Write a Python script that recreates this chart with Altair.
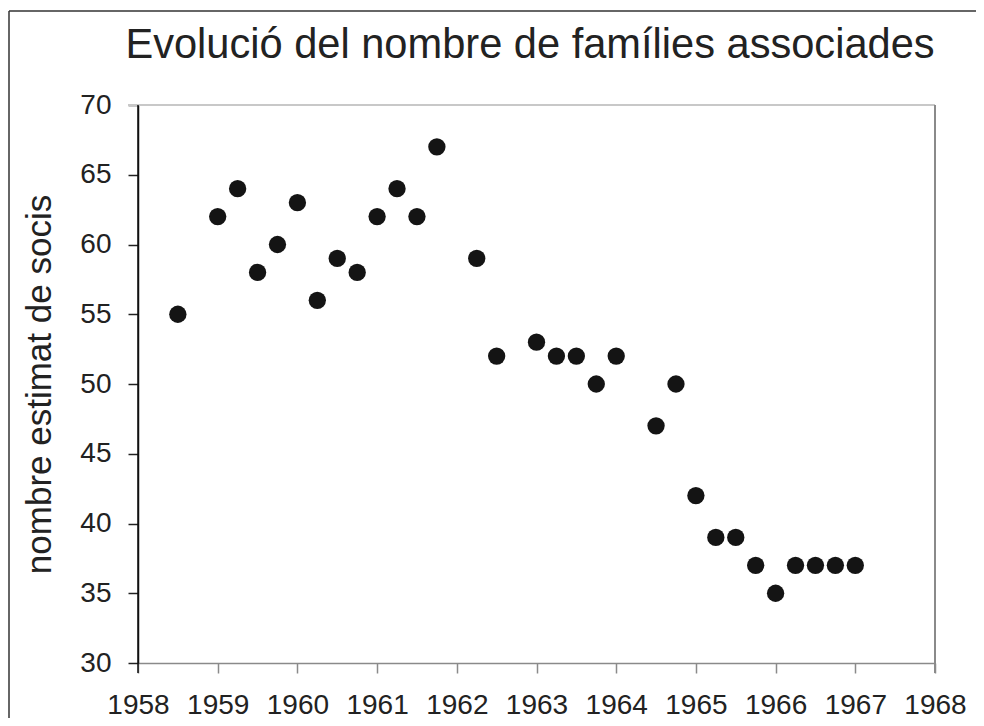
import altair as alt
import pandas as pd

# Data (quarterly estimates)
years = [1958.5, 1959.0, 1959.25, 1959.5, 1959.75, 1960.0, 1960.25, 1960.5, 1960.75,
         1961.0, 1961.25, 1961.5, 1961.75, 1962.25, 1962.5, 1963.0, 1963.25, 1963.5,
         1963.75, 1964.0, 1964.5, 1964.75, 1965.0, 1965.25, 1965.5, 1965.75, 1966.0,
         1966.25, 1966.5, 1966.75, 1967.0]
socis = [55, 62, 64, 58, 60, 63, 56, 59, 58,
         62, 64, 62, 67, 59, 52, 53, 52, 52,
         50, 52, 47, 50, 42, 39, 39, 37, 35,
         37, 37, 37, 37]
x_ticks = list(range(1958, 1969))
y_ticks = list(range(30, 71, 5))
title_text = ["Evolució del nombre de famílies associades"]

df = pd.DataFrame({"any": years, "socis": socis})

FONT = "Liberation Sans"
W, H = 797, 558

xscale = alt.Scale(domain=[1958, 1968], nice=False, zero=False)
yscale = alt.Scale(domain=[30, 70], nice=False, zero=False)

points = alt.Chart(df).mark_circle(size=300, color="#141414", opacity=1).encode(
    x=alt.X("any:Q", scale=xscale,
            axis=alt.Axis(values=x_ticks, format="d", title=None, grid=False,
                          domainColor="#8a8a8a", domainWidth=1.5,
                          tickColor="#8a8a8a", tickWidth=1.5, tickSize=10,
                          labelFont=FONT, labelFontSize=28, labelColor="#222222",
                          labelPadding=18, labelFlush=False)),
    y=alt.Y("socis:Q", scale=yscale,
            axis=alt.Axis(values=y_ticks, title="nombre estimat de socis", grid=False,
                          domainColor="#111111", domainWidth=1.5,
                          tickColor="#222222", tickWidth=1.5, tickSize=10,
                          labelFont=FONT, labelFontSize=28, labelColor="#222222",
                          labelPadding=17,
                          titleFont=FONT, titleFontSize=35, titleFontWeight="normal",
                          titleColor="#222222", titlePadding=22)),
)

frame = pd.DataFrame({"k": [0]})
title_df = pd.DataFrame({"t": title_text})
top_line = alt.Chart(frame).mark_rule(color="#c8c8c8", strokeWidth=2).encode(
    x=alt.value(-10), x2=alt.value(W), y=alt.value(0))
right_line = alt.Chart(frame).mark_rule(color="#8a8a8a", strokeWidth=2).encode(
    x=alt.value(W), y=alt.value(0), y2=alt.value(H + 10))
left_line = alt.Chart(frame).mark_rule(color="#111111", strokeWidth=1.5).encode(
    x=alt.value(0), y=alt.value(0), y2=alt.value(H + 10))
border_top = alt.Chart(frame).mark_rule(color="#333333", strokeWidth=1.5).encode(
    x=alt.value(-129), x2=alt.value(W + 60), y=alt.value(-94))
border_left = alt.Chart(frame).mark_rule(color="#333333", strokeWidth=1.5).encode(
    x=alt.value(-129), y=alt.value(-94), y2=alt.value(H + 80))
title = alt.Chart(title_df).mark_text(
    font=FONT, fontSize=41.6, color="#222222", align="center", baseline="alphabetic"
).encode(text="t:N", x=alt.value(392), y=alt.value(-47))

chart = alt.layer(border_top, border_left, top_line, right_line, points, left_line, title).properties(
    width=W, height=H,
    autosize=alt.AutoSizeParams(type="none"),
    padding={"left": 130, "top": 97, "right": 41, "bottom": 55},
).configure_view(stroke=None).configure(background="white")

chart.save("out.html", embed_options={"renderer": "svg", "actions": False})
